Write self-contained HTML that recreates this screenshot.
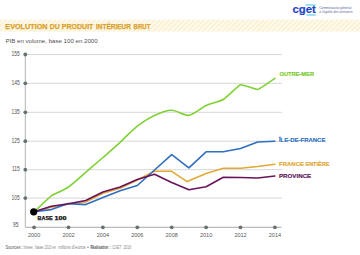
<!DOCTYPE html>
<html><head><meta charset="utf-8"><style>
html,body{margin:0;padding:0;background:#fff;width:360px;height:255px;overflow:hidden}
svg{position:absolute;left:0;top:0}
text{font-family:"Liberation Sans",sans-serif}
.ax{font-size:5.5px;fill:#555}
.ay{font-size:6.4px;fill:#505050}
.foot{font-size:4.4px;fill:#7a7a7a}
</style></head><body>
<svg width="360" height="255" viewBox="0 0 360 255">
<defs>
<pattern id="st" patternUnits="userSpaceOnUse" width="3.5" height="5" patternTransform="rotate(45)">
<rect width="3.5" height="5" fill="#fffcf1"/>
<rect width="1.9" height="5" fill="#fcf0d2"/>
</pattern>
</defs>
<rect x="0" y="19.6" width="360" height="12" fill="url(#st)"/>
<text x="292.5" y="13.3" style="font-size:11.3px;font-weight:bold;fill:#1f46c9;stroke:#1f46c9;stroke-width:0.2px;letter-spacing:0px">cget</text>
<rect x="305.5" y="4.4" width="10" height="1.2" fill="#62cde6"/>
<rect x="306.5" y="14.4" width="9.3" height="1.2" fill="#62cde6"/>
<text x="319.23" y="8.70" font-size="3.2" font-weight="normal" textLength="32.18" lengthAdjust="spacingAndGlyphs" fill="#56659a">Commissariat général</text>
<text x="319.27" y="12.50" font-size="3.2" font-weight="normal" textLength="33.24" lengthAdjust="spacingAndGlyphs" fill="#56659a">à l’égalité des territoires</text>
<line x1="25.3" y1="54.5" x2="282" y2="54.5" stroke="#d2d2d2" stroke-width="0.9"/>
<line x1="25.3" y1="83.3" x2="282" y2="83.3" stroke="#d2d2d2" stroke-width="0.9"/>
<line x1="25.3" y1="112.3" x2="282" y2="112.3" stroke="#d2d2d2" stroke-width="0.9"/>
<line x1="25.3" y1="141.2" x2="282" y2="141.2" stroke="#d2d2d2" stroke-width="0.9"/>
<line x1="25.3" y1="169.7" x2="282" y2="169.7" stroke="#d2d2d2" stroke-width="0.9"/>
<line x1="25.3" y1="198.1" x2="282" y2="198.1" stroke="#d2d2d2" stroke-width="0.9"/>
<line x1="25.3" y1="54" x2="25.3" y2="227.3" stroke="#a8acab" stroke-width="0.9"/>
<line x1="25.3" y1="227.3" x2="281.5" y2="227.3" stroke="#a8aaaa" stroke-width="1"/>
<circle cx="25.3" cy="54.5" r="1.9" fill="#687170"/>
<text transform="translate(19.8,56.1) scale(0.77,1)" text-anchor="end" class="ay">155</text>
<circle cx="25.3" cy="83.3" r="1.9" fill="#687170"/>
<text transform="translate(19.8,84.89999999999999) scale(0.77,1)" text-anchor="end" class="ay">145</text>
<circle cx="25.3" cy="112.3" r="1.9" fill="#687170"/>
<text transform="translate(19.8,113.89999999999999) scale(0.77,1)" text-anchor="end" class="ay">135</text>
<circle cx="25.3" cy="141.2" r="1.9" fill="#687170"/>
<text transform="translate(19.8,142.79999999999998) scale(0.77,1)" text-anchor="end" class="ay">125</text>
<circle cx="25.3" cy="169.7" r="1.9" fill="#687170"/>
<text transform="translate(19.8,171.29999999999998) scale(0.77,1)" text-anchor="end" class="ay">115</text>
<circle cx="25.3" cy="198.1" r="1.9" fill="#687170"/>
<text transform="translate(19.8,199.7) scale(0.77,1)" text-anchor="end" class="ay">105</text>
<text transform="translate(18.4,227.4) scale(0.77,1)" text-anchor="end" class="ay">95</text>
<circle cx="34.1" cy="227.3" r="1.9" fill="#687170"/>
<text x="34.1" y="236.5" text-anchor="middle" class="ax">2000</text>
<circle cx="68.5" cy="227.3" r="1.9" fill="#687170"/>
<text x="68.5" y="236.5" text-anchor="middle" class="ax">2002</text>
<circle cx="102.9" cy="227.3" r="1.9" fill="#687170"/>
<text x="102.9" y="236.5" text-anchor="middle" class="ax">2004</text>
<circle cx="137.3" cy="227.3" r="1.9" fill="#687170"/>
<text x="137.3" y="236.5" text-anchor="middle" class="ax">2006</text>
<circle cx="171.7" cy="227.3" r="1.9" fill="#687170"/>
<text x="171.7" y="236.5" text-anchor="middle" class="ax">2008</text>
<circle cx="206.1" cy="227.3" r="1.9" fill="#687170"/>
<text x="206.1" y="236.5" text-anchor="middle" class="ax">2010</text>
<circle cx="240.5" cy="227.3" r="1.9" fill="#687170"/>
<text x="240.5" y="236.5" text-anchor="middle" class="ax">2012</text>
<circle cx="274.9" cy="227.3" r="1.9" fill="#687170"/>
<text x="274.9" y="236.5" text-anchor="middle" class="ax">2014</text>
<polyline points="34.1,211.8 51.3,207.3 68.5,204.0 85.7,202.0 102.9,193.2 120.1,188.2 137.3,180.0 154.5,171.3 171.7,171.3 187.1,181.6 206.1,173.4 223.3,168.3 240.5,168.3 257.7,166.5 274.9,164.3" fill="none" stroke="#e2a935" stroke-width="1.6" stroke-linejoin="round" stroke-linecap="round"/>
<polyline points="34.1,211.8 51.3,209.6 68.5,203.6 85.7,204.6 102.9,197.6 120.1,190.8 137.3,185.5 154.5,170.0 171.7,154.7 188.9,167.8 206.1,151.8 223.3,151.8 240.5,148.5 257.7,142.0 274.9,141.3" fill="none" stroke="#2f6ec2" stroke-width="1.6" stroke-linejoin="round" stroke-linecap="round"/>
<polyline points="34.1,211.8 51.3,206.3 68.5,203.8 85.7,200.5 102.9,192.0 120.1,187.0 137.3,179.5 154.5,174.2 171.7,182.5 188.9,189.8 206.1,186.8 223.3,177.2 240.5,177.5 257.7,178.0 274.9,176.0" fill="none" stroke="#68135a" stroke-width="1.6" stroke-linejoin="round" stroke-linecap="round"/>
<path d="M34.10,211.80 C34.10,211.80 49.87,196.83 51.30,195.80 C52.73,194.77 63.34,190.51 68.50,187.00 C73.66,183.49 79.97,177.32 85.70,172.40 C91.43,167.48 97.17,162.52 102.90,157.50 C108.63,152.48 114.37,147.53 120.10,142.30 C125.83,137.07 131.57,130.57 137.30,126.10 C143.03,121.63 148.77,118.13 154.50,115.50 C160.23,112.87 166.54,110.33 171.70,110.30 C176.86,110.27 183.74,116.02 188.90,115.30 C194.06,114.58 201.51,107.61 206.10,105.50 C210.69,103.39 219.86,101.58 223.30,99.50 C226.74,97.42 238.49,85.28 240.50,84.70 C242.51,84.12 255.98,89.82 257.70,89.50 C259.42,89.18 274.04,78.86 274.90,78.30" fill="none" stroke="#7fd135" stroke-width="1.6" stroke-linecap="round"/>
<circle cx="33.7" cy="211.8" r="3.6" fill="#000"/>
<text x="5.33" y="29.10" font-size="7.2" font-weight="bold" textLength="42.17" lengthAdjust="spacingAndGlyphs" fill="#daa22c" stroke="#daa22c" stroke-width="0.25">EVOLUTION</text>
<text x="49.65" y="29.10" font-size="7.2" font-weight="bold" textLength="10.11" lengthAdjust="spacingAndGlyphs" fill="#daa22c" stroke="#daa22c" stroke-width="0.25">DU</text>
<text x="61.84" y="29.10" font-size="7.2" font-weight="bold" textLength="31.53" lengthAdjust="spacingAndGlyphs" fill="#daa22c" stroke="#daa22c" stroke-width="0.25">PRODUIT</text>
<text x="95.98" y="29.10" font-size="7.2" font-weight="bold" textLength="34.88" lengthAdjust="spacingAndGlyphs" fill="#daa22c" stroke="#daa22c" stroke-width="0.25">INTÉRIEUR</text>
<text x="133.61" y="29.10" font-size="7.2" font-weight="bold" textLength="16.77" lengthAdjust="spacingAndGlyphs" fill="#daa22c" stroke="#daa22c" stroke-width="0.25">BRUT</text>
<text x="5.51" y="43.30" font-size="6.0" font-weight="normal" textLength="92.11" lengthAdjust="spacingAndGlyphs" fill="#505050">PIB en volume, base 100 en 2000</text>
<text x="279.47" y="76.30" font-size="6" font-weight="bold" textLength="34.54" lengthAdjust="spacingAndGlyphs" fill="#78cd2e" stroke="#78cd2e" stroke-width="0.2">OUTRE-MER</text>
<text x="278.94" y="141.70" font-size="6" font-weight="bold" textLength="46.49" lengthAdjust="spacingAndGlyphs" fill="#2f6ec2" stroke="#2f6ec2" stroke-width="0.15">ÎLE-DE-FRANCE</text>
<text x="279.11" y="166.10" font-size="6" font-weight="bold" textLength="24.81" lengthAdjust="spacingAndGlyphs" fill="#e2a935" stroke="#e2a935" stroke-width="0.2">FRANCE</text>
<text x="305.44" y="166.10" font-size="6" font-weight="bold" textLength="23.98" lengthAdjust="spacingAndGlyphs" fill="#e2a935" stroke="#e2a935" stroke-width="0.2">ENTIÈRE</text>
<text x="278.90" y="177.80" font-size="6" font-weight="bold" textLength="32.34" lengthAdjust="spacingAndGlyphs" fill="#5e1259" stroke="#5e1259" stroke-width="0.15">PROVINCE</text>
<text x="37.55" y="220.00" font-size="5.2" font-weight="bold" textLength="15.16" lengthAdjust="spacingAndGlyphs" fill="#111" stroke="#111" stroke-width="0.25">BASE</text>
<text x="54.47" y="220.00" font-size="5.2" font-weight="bold" textLength="11.94" lengthAdjust="spacingAndGlyphs" fill="#111" stroke="#111" stroke-width="0.25">100</text>
<text x="5.62" y="248.90" font-size="4.9" font-weight="normal" textLength="15.02" lengthAdjust="spacingAndGlyphs" fill="#505050">Sources</text>
<text x="20.94" y="248.90" font-size="4.9" font-weight="normal" textLength="2.05" lengthAdjust="spacingAndGlyphs" fill="#505050">:</text>
<text x="23.46" y="248.90" font-size="4.9" font-weight="normal" textLength="10.17" lengthAdjust="spacingAndGlyphs" fill="#858585">Insee,</text>
<text x="35.15" y="248.90" font-size="4.9" font-weight="normal" textLength="8.34" lengthAdjust="spacingAndGlyphs" fill="#858585">base</text>
<text x="44.44" y="248.90" font-size="4.9" font-weight="normal" textLength="6.97" lengthAdjust="spacingAndGlyphs" fill="#858585">2010</text>
<text x="52.47" y="248.90" font-size="4.9" font-weight="normal" textLength="3.65" lengthAdjust="spacingAndGlyphs" fill="#858585">en</text>
<text x="58.16" y="248.90" font-size="4.9" font-weight="normal" textLength="12.47" lengthAdjust="spacingAndGlyphs" fill="#858585">millions</text>
<text x="71.83" y="248.90" font-size="4.9" font-weight="normal" textLength="13.82" lengthAdjust="spacingAndGlyphs" fill="#858585">d’euros</text>
<text x="86.99" y="248.90" font-size="4.9" font-weight="normal" textLength="1.82" lengthAdjust="spacingAndGlyphs" fill="#858585">•</text>
<text x="90.38" y="248.90" font-size="4.9" font-weight="bold" textLength="18.02" lengthAdjust="spacingAndGlyphs" fill="#505050">Réalisation</text>
<text x="109.24" y="248.90" font-size="4.9" font-weight="normal" textLength="2.05" lengthAdjust="spacingAndGlyphs" fill="#555">:</text>
<text x="112.14" y="248.90" font-size="4.9" font-weight="normal" textLength="9.04" lengthAdjust="spacingAndGlyphs" fill="#858585">CGET</text>
<text x="123.42" y="248.90" font-size="4.9" font-weight="normal" textLength="7.82" lengthAdjust="spacingAndGlyphs" fill="#858585">2016</text>
</svg>
</body></html>
